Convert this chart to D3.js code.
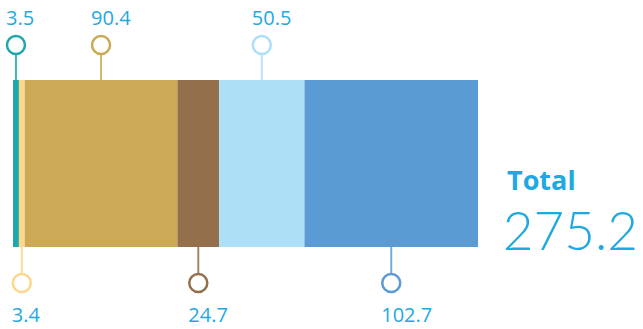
<!DOCTYPE html>
<meta charset="utf-8">
<style>
body { margin: 0; background: #fff; }
text { font-family: "Open Sans", sans-serif; }
.label { fill: #1fa8e1; font-size: 20px; }
.total-title { fill: #1fa8e1; font-size: 27px; font-weight: bold; }
.total-value { fill: #1fa8e1; font-size: 53px; font-weight: 300; font-family: Lato, "Open Sans", sans-serif; }
</style>
<svg width="643" height="329"></svg>
<script src="https://cdn.jsdelivr.net/npm/d3@7"></script>
<script>

var values = [3.5, 3.4, 90.4, 24.7, 50.5, 102.7];
var colors = ["#1ea8ae", "#fdd78c", "#cca955", "#93704b", "#addff6", "#5b9bd3"];
var sides = ["top", "bottom", "top", "bottom", "top", "bottom"];
var totalLabel = "Total";

var svg = d3.select("svg");
var barTop = 80, barBottom = 247;
var r = 9;

var total = d3.sum(values);
var x = d3.scaleLinear().domain([0, total]).range([13, 478]);

// running start for each segment
var segs = [];
var acc = 0;
values.forEach(function(v, i) {
    segs.push({value: v, start: acc, end: acc + v, color: colors[i], side: sides[i]});
    acc += v;
});

svg.selectAll(".seg")
    .data(segs)
    .enter().append("rect")
    .attr("class", "seg")
    .attr("x", function(d) { return x(d.start); })
    .attr("y", barTop)
    .attr("width", function(d) { return x(d.end) - x(d.start); })
    .attr("height", barBottom - barTop)
    .attr("fill", function(d) { return d.color; });

var ann = svg.selectAll(".ann")
    .data(segs)
    .enter().append("g")
    .attr("class", "ann")
    .attr("transform", function(d) { return "translate(" + x((d.start + d.end) / 2) + ",0)"; });

// connector
ann.append("line")
    .attr("x1", 0).attr("x2", 0)
    .attr("y1", function(d) { return d.side == "top" ? 45 + r : barBottom; })
    .attr("y2", function(d) { return d.side == "top" ? barTop : 283 - r; })
    .attr("stroke", function(d) { return d.color; })
    .attr("stroke-opacity", 0.85)
    .attr("stroke-width", 2);

ann.append("circle")
    .attr("cx", 0)
    .attr("cy", function(d) { return d.side == "top" ? 45 : 283; })
    .attr("r", r)
    .attr("fill", "#fff")
    .attr("stroke", function(d) { return d.color; })
    .attr("stroke-width", 2.5);

ann.append("text")
    .attr("class", "label")
    .attr("x", -r - 1)
    .attr("y", function(d) { return d.side == "top" ? 25 : 322; })
    .text(function(d) { return d3.format(".1f")(d.value); });

svg.append("text")
    .attr("class", "total-title")
    .attr("x", 507)
    .attr("y", 190)
    .text(totalLabel);

svg.append("text")
    .attr("class", "total-value")
    .attr("x", 638)
    .attr("y", 250)
    .attr("text-anchor", "end")
    .text(d3.format(".1f")(total));

</script>
